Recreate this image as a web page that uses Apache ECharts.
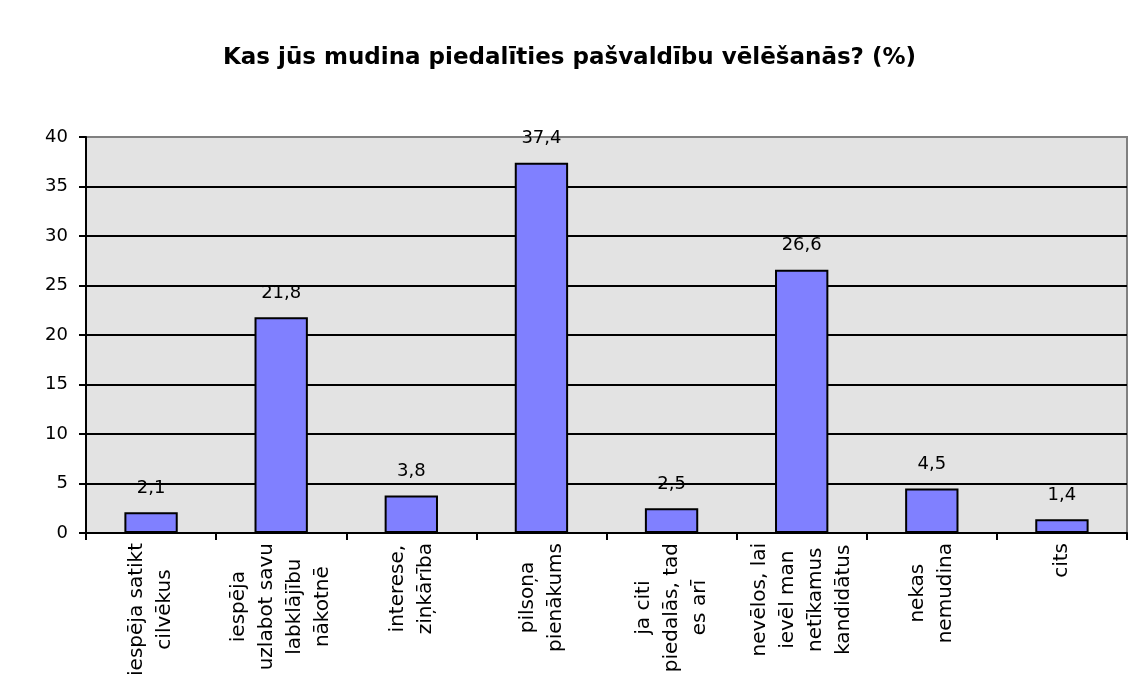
<!DOCTYPE html>
<html>
<head>
<meta charset="utf-8">
<title>Kas jūs mudina piedalīties pašvaldību vēlēšanās?</title>
<script src="https://cdn.jsdelivr.net/npm/echarts@6/dist/echarts.min.js"></script>
<style>
    html, body {
        margin: 0;
        padding: 0;
        background: #ffffff;
    }

    #chart {
        width: 1139px;
        height: 699px;
    }
</style>
</head>
<body>
<div id="chart"></div>
<script>
// dati no attēla
var titleText = 'Kas jūs mudina piedalīties pašvaldību vēlēšanās? (%)';
var categories = [
    'iespēja satikt\ncilvēkus',
    'iespēja\nuzlabot savu\nlabklājību\nnākotnē',
    'interese,\nziņkārība',
    'pilsoņa\npienākums',
    'ja citi\npiedalās, tad\nes arī',
    'nevēlos, lai\nievēl man\nnetīkamus\nkandidātus',
    'nekas\nnemudina',
    'cits'
];
var values = [2.1, 21.8, 3.8, 37.4, 2.5, 26.6, 4.5, 1.4];
var yTicks = [0, 5, 10, 15, 20, 25, 30, 35, 40];

var font = 'DejaVu Sans';
var chart = echarts.init(document.getElementById('chart'));

var option = {
    backgroundColor: '#ffffff',
    animation: false,
    title: {
        text: titleText,
        left: 'center',
        top: 42,
        textStyle: {
            fontFamily: font,
            fontSize: 23,
            fontWeight: 'bold',
            color: '#000'
        }
    },
    grid: {
        left: 86,
        right: 12,
        top: 137,
        bottom: 166,
        show: true,
        backgroundColor: '#e3e3e3',
        borderColor: '#808080',
        borderWidth: 2
    },
    xAxis: {
        type: 'category',
        data: categories,
        axisLine: {
            lineStyle: { color: '#000', width: 2 }
        },
        axisTick: {
            show: true,
            length: 7,
            lineStyle: { color: '#000', width: 2 }
        },
        axisLabel: {
            interval: 0,
            rotate: 90,
            margin: 10,
            formatter: function (v) {
                return v.split('\n').map(function (l) { return '{c|' + l + '}'; }).join('\n');
            },
            rich: {
                c: {
                    align: 'center',
                    fontFamily: font,
                    fontSize: 20,
                    lineHeight: 28,
                    color: '#000'
                }
            }
        }
    },
    yAxis: {
        type: 'value',
        min: yTicks[0],
        max: yTicks[yTicks.length - 1],
        interval: 5,
        axisLine: {
            show: true,
            lineStyle: { color: '#000', width: 2 }
        },
        axisTick: {
            show: true,
            length: 7,
            lineStyle: { color: '#000', width: 2 }
        },
        axisLabel: {
            margin: 18,
            fontFamily: font,
            fontSize: 18,
            color: '#000'
        },
        splitLine: {
            show: true,
            showMinLine: false,
            showMaxLine: false,
            lineStyle: { color: '#000', width: 2 }
        }
    },
    series: [
        {
            type: 'bar',
            data: values,
            barWidth: '41%',
            itemStyle: {
                color: '#8080ff',
                borderColor: '#000',
                borderWidth: 2
            },
            label: {
                show: true,
                position: 'top',
                distance: 15,
                fontFamily: font,
                fontSize: 18,
                color: '#000',
                formatter: function (p) {
                    return p.value.toFixed(1).replace('.', ',');
                }
            }
        }
    ]
};

chart.setOption(option);
</script>
</body>
</html>
